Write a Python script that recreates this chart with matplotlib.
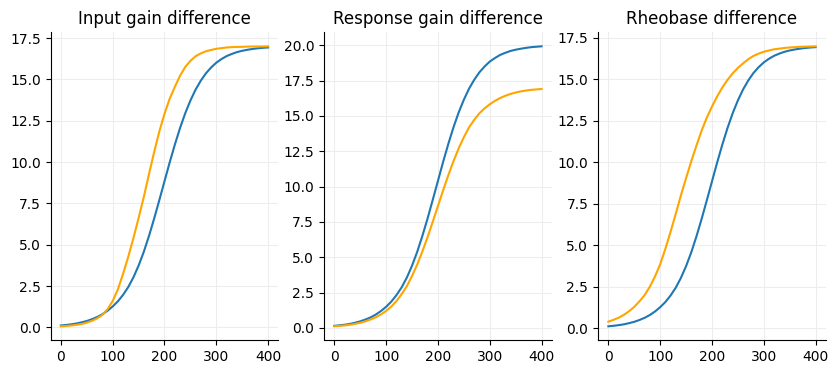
import matplotlib
matplotlib.use("Agg")
import matplotlib.pyplot as plt

# stimulus axis (values read every 10 units)
x = list(range(0, 401, 10))

titles = ["Input gain difference", "Response gain difference", "Rheobase difference"]

# baseline curve (blue in panels 1 and 3)
base = [0.12, 0.15, 0.19, 0.24, 0.31, 0.39, 0.50, 0.63, 0.80, 1.01, 1.27,
        1.58, 1.97, 2.44, 3.03, 3.74, 4.57, 5.53, 6.58, 7.70, 8.84,
        9.98, 11.06, 12.06, 12.95, 13.72, 14.38, 14.92, 15.37, 15.72, 16.01,
        16.23, 16.41, 16.54, 16.65, 16.73, 16.79, 16.84, 16.88, 16.91, 16.93]

# panel 1: input gain
input_gain = [0.07, 0.09, 0.12, 0.16, 0.21, 0.29, 0.40, 0.55, 0.76, 1.10, 1.60,
              2.30, 3.24, 4.27, 5.40, 6.62, 7.88, 9.27, 10.60, 11.85, 12.92,
              13.83, 14.55, 15.22, 15.75, 16.12, 16.40, 16.57, 16.70, 16.78, 16.85,
              16.89, 16.93, 16.95, 16.96, 16.97, 16.98, 16.99, 16.99, 16.99, 17.00]

# panel 2: response gain
resp_high = [0.14, 0.18, 0.22, 0.28, 0.36, 0.46, 0.59, 0.74, 0.94, 1.19, 1.49,
             1.86, 2.32, 2.87, 3.56, 4.40, 5.38, 6.51, 7.74, 9.06, 10.40,
             11.74, 13.01, 14.19, 15.24, 16.14, 16.92, 17.55, 18.08, 18.49, 18.84,
             19.09, 19.31, 19.46, 19.59, 19.68, 19.75, 19.81, 19.86, 19.89, 19.92]
resp_low = [0.11, 0.14, 0.17, 0.22, 0.28, 0.36, 0.46, 0.59, 0.75, 0.95, 1.20,
            1.51, 1.90, 2.39, 2.95, 3.67, 4.48, 5.41, 6.42, 7.51, 8.62,
            9.73, 10.80, 11.79, 12.70, 13.49, 14.18, 14.72, 15.18, 15.53, 15.82,
            16.06, 16.26, 16.42, 16.55, 16.65, 16.73, 16.79, 16.84, 16.87, 16.90]

# panel 3: rheobase shift
rheobase = [0.40, 0.51, 0.64, 0.81, 1.03, 1.29, 1.62, 2.00, 2.50, 3.12, 3.85,
            4.78, 5.80, 6.88, 8.00, 9.04, 10.05, 11.00, 11.90, 12.68, 13.35,
            13.96, 14.50, 14.96, 15.35, 15.68, 15.95, 16.20, 16.40, 16.54, 16.65,
            16.73, 16.80, 16.84, 16.88, 16.91, 16.93, 16.95, 16.96, 16.97, 16.98]

panels = [(base, input_gain), (resp_high, resp_low), (base, rheobase)]

fig = plt.figure(figsize=(8.38, 3.74), dpi=100)
lefts = [0.0603, 0.3866, 0.7136]

for left, title, (blue, orange) in zip(lefts, titles, panels):
    ax = fig.add_axes([left, 0.0901, 0.272, 0.8235])
    ax.grid(True, color='0.93', linewidth=0.8)
    ax.set_axisbelow(True)
    ax.plot(x, blue, color='#1f77b4', lw=1.5)
    ax.plot(x, orange, color='orange', lw=1.5)
    ax.set_title(title, fontsize=12)
    ax.spines['top'].set_visible(False)
    ax.spines['right'].set_visible(False)
    ax.set_xticks([0, 100, 200, 300, 400])

fig.savefig("out.png", dpi=100)
